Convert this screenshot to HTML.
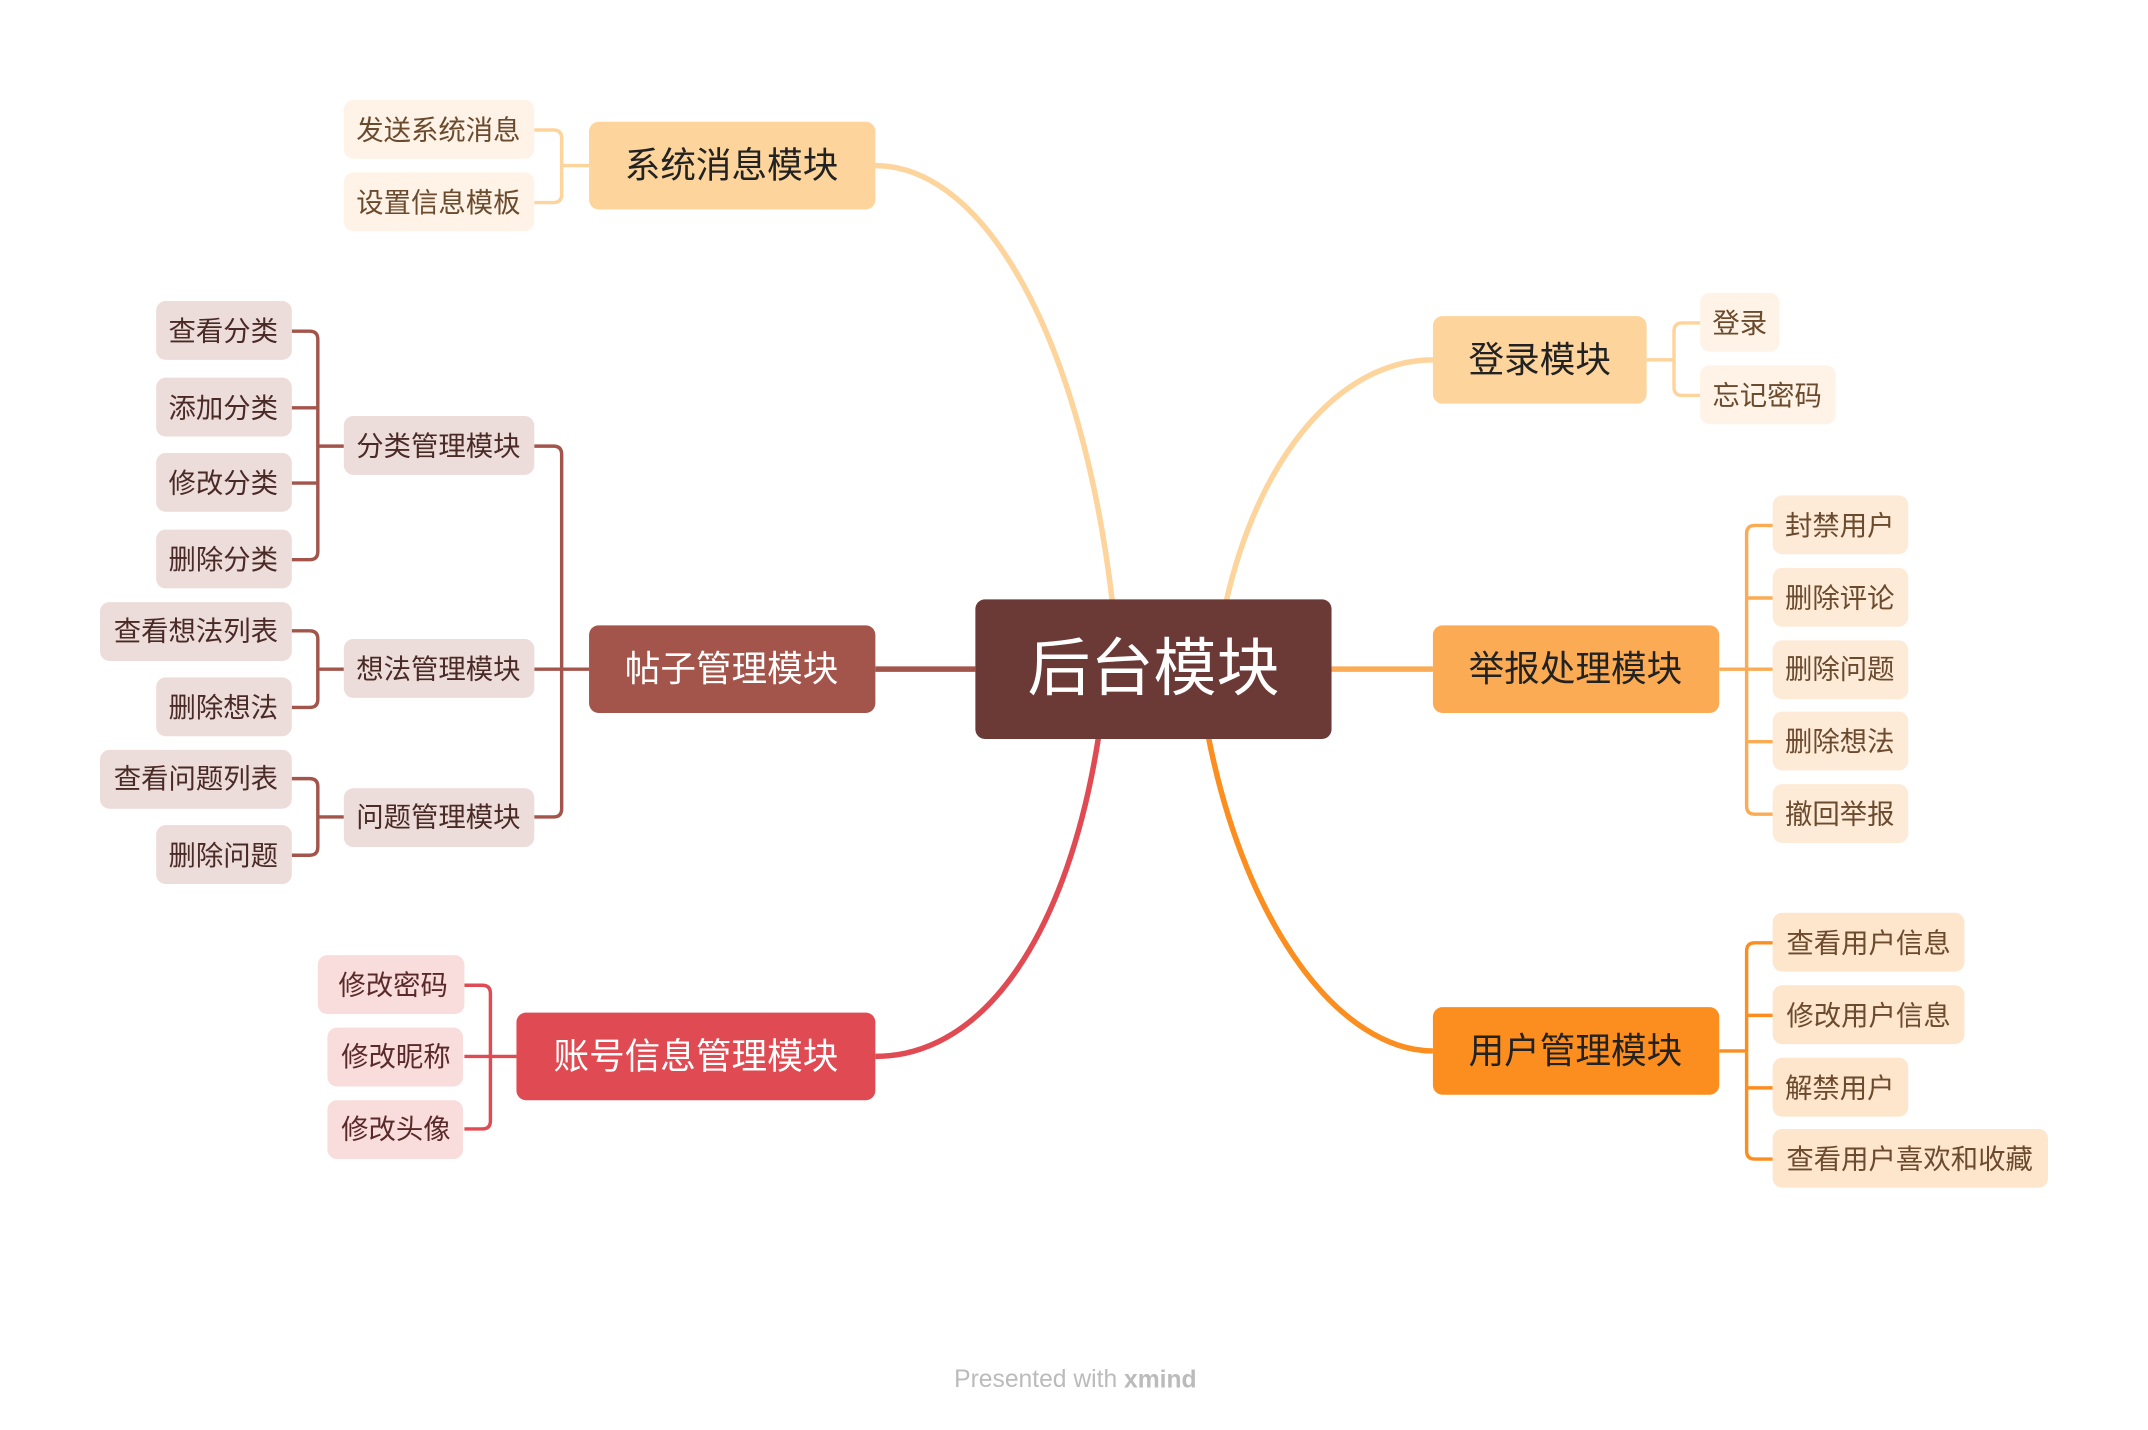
<!DOCTYPE html>
<html><head><meta charset="utf-8"><style>
html,body{margin:0;padding:0;background:#fff;}
svg{display:block;}
text{font-family:"Liberation Sans","Noto Sans CJK SC",sans-serif;dominant-baseline:central;text-anchor:middle;}
</style></head><body>
<svg width="2148" height="1430" viewBox="0 0 1568 1045" preserveAspectRatio="none" xmlns="http://www.w3.org/2000/svg">
<rect width="1568" height="1045" fill="#fff"/>
<g fill="none" stroke-width="4">
<path d="M812,440 C790,250 720,121 639,121" stroke="#fdd49b"/>
<path d="M639,489 L712,489" stroke="#a4554b"/>
<path d="M802,538 C780,680 720,772 639,772" stroke="#e04a52"/>
<path d="M895,440 C920,330 980,263 1046,263" stroke="#fdd49b"/>
<path d="M972,489 L1046,489" stroke="#fbab54"/>
<path d="M882,538 C910,680 980,768 1046,768" stroke="#fb8e1e"/>
</g>
<g fill="none" stroke-width="2.5">
<path d="M390,95 H404 Q410,95 410,101 V142 Q410,148 404,148 H390 M410,121 H430" stroke="#fdd49b"/>
<path d="M390,326 H404 Q410,326 410,332 V591 Q410,597 404,597 H390 M390,489 H430" stroke="#a4554b"/>
<path d="M213,242 H226 Q232,242 232,248 V403 Q232,409 226,409 H213 M213,298 H232 M213,353 H232 M232,326 H251" stroke="#a4554b"/>
<path d="M213,461 H226 Q232,461 232,467 V511 Q232,517 226,517 H213 M232,489 H251" stroke="#a4554b"/>
<path d="M213,569 H226 Q232,569 232,575 V619 Q232,625 226,625 H213 M232,597 H251" stroke="#a4554b"/>
<path d="M339,720 H352 Q358,720 358,726 V819 Q358,825 352,825 H339 M339,772 H377" stroke="#e04a52"/>
<path d="M1202,263 H1222 M1241,236 H1228 Q1222,236 1222,242 V283 Q1222,289 1228,289 H1241" stroke="#fdd49b"/>
<path d="M1255,489 H1294 M1294,384 H1281 Q1275,384 1275,390 V589 Q1275,595 1281,595 H1294 M1275,437 H1294 M1275,542 H1294" stroke="#fbab54"/>
<path d="M1255,768 H1275 M1294,689 H1281 Q1275,689 1275,695 V841 Q1275,847 1281,847 H1294 M1275,742 H1294 M1275,795 H1294" stroke="#fb8e1e"/>
</g>
<rect x="712" y="438" width="260" height="102" rx="7" fill="#6b3a36"/>
<text x="842" y="489" font-size="46" fill="#fff">后台模块</text>
<rect x="430" y="89" width="209" height="64" rx="7" fill="#fdd49b"/><text x="534" y="121" font-size="26" fill="#222">系统消息模块</text>
<rect x="430" y="457" width="209" height="64" rx="7" fill="#a4554b"/><text x="534" y="489" font-size="26" fill="#fff">帖子管理模块</text>
<rect x="377" y="740" width="262" height="64" rx="7" fill="#e04a52"/><text x="508" y="772" font-size="26" fill="#fff">账号信息管理模块</text>
<rect x="1046" y="231" width="156" height="64" rx="7" fill="#fdd49b"/><text x="1124" y="263" font-size="26" fill="#222">登录模块</text>
<rect x="1046" y="457" width="209" height="64" rx="7" fill="#fbab54"/><text x="1150" y="489" font-size="26" fill="#222">举报处理模块</text>
<rect x="1046" y="736" width="209" height="64" rx="7" fill="#fb8e1e"/><text x="1150" y="768" font-size="26" fill="#222">用户管理模块</text>
<g font-size="20">
<g fill="#fef3e6"><rect x="251" y="73" width="139" height="43" rx="7"/><rect x="251" y="126" width="139" height="43" rx="7"/><rect x="1241" y="214" width="58" height="43" rx="7"/><rect x="1241" y="267" width="99" height="43" rx="7"/></g>
<g fill="#6b4a2e"><text x="320" y="95">发送系统消息</text><text x="320" y="148">设置信息模板</text><text x="1270" y="236">登录</text><text x="1290" y="289">忘记密码</text></g>
<g fill="#ecdcda"><rect x="251" y="304" width="139" height="43" rx="7"/><rect x="251" y="467" width="139" height="43" rx="7"/><rect x="251" y="576" width="139" height="43" rx="7"/>
<rect x="114" y="220" width="99" height="43" rx="7"/><rect x="114" y="276" width="99" height="43" rx="7"/><rect x="114" y="331" width="99" height="43" rx="7"/><rect x="114" y="387" width="99" height="43" rx="7"/>
<rect x="73" y="440" width="140" height="43" rx="7"/><rect x="114" y="495" width="99" height="43" rx="7"/><rect x="73" y="548" width="140" height="43" rx="7"/><rect x="114" y="603" width="99" height="43" rx="7"/></g>
<g fill="#4a2a26"><text x="320" y="326">分类管理模块</text><text x="320" y="489">想法管理模块</text><text x="320" y="597">问题管理模块</text>
<text x="163" y="242">查看分类</text><text x="163" y="298">添加分类</text><text x="163" y="353">修改分类</text><text x="163" y="409">删除分类</text>
<text x="143" y="461">查看想法列表</text><text x="163" y="517">删除想法</text><text x="143" y="569">查看问题列表</text><text x="163" y="625">删除问题</text></g>
<g fill="#f9dcdc"><rect x="232" y="698" width="107" height="43" rx="7"/><rect x="239" y="751" width="99" height="43" rx="7"/><rect x="239" y="804" width="99" height="43" rx="7"/></g>
<g fill="#5a2a2a"><text x="287" y="720">修改密码</text><text x="289" y="772">修改昵称</text><text x="289" y="825">修改头像</text></g>
<g fill="#fdebd8"><rect x="1294" y="362" width="99" height="43" rx="7"/><rect x="1294" y="415" width="99" height="43" rx="7"/><rect x="1294" y="468" width="99" height="43" rx="7"/><rect x="1294" y="520" width="99" height="43" rx="7"/><rect x="1294" y="573" width="99" height="43" rx="7"/></g>
<g fill="#fee6cc"><rect x="1294" y="667" width="140" height="43" rx="7"/><rect x="1294" y="720" width="140" height="43" rx="7"/><rect x="1294" y="773" width="99" height="43" rx="7"/><rect x="1294" y="825" width="201" height="43" rx="7"/></g>
<g fill="#6b4a2e"><text x="1343" y="384">封禁用户</text><text x="1343" y="437">删除评论</text><text x="1343" y="489">删除问题</text><text x="1343" y="542">删除想法</text><text x="1343" y="595">撤回举报</text>
<text x="1364" y="689">查看用户信息</text><text x="1364" y="742">修改用户信息</text><text x="1343" y="795">解禁用户</text><text x="1394" y="847">查看用户喜欢和收藏</text></g>
</g>
<text x="785" y="1008" font-size="18" fill="#bbb">Presented with <tspan font-weight="bold">xmind</tspan></text>
</svg>
</body></html>
